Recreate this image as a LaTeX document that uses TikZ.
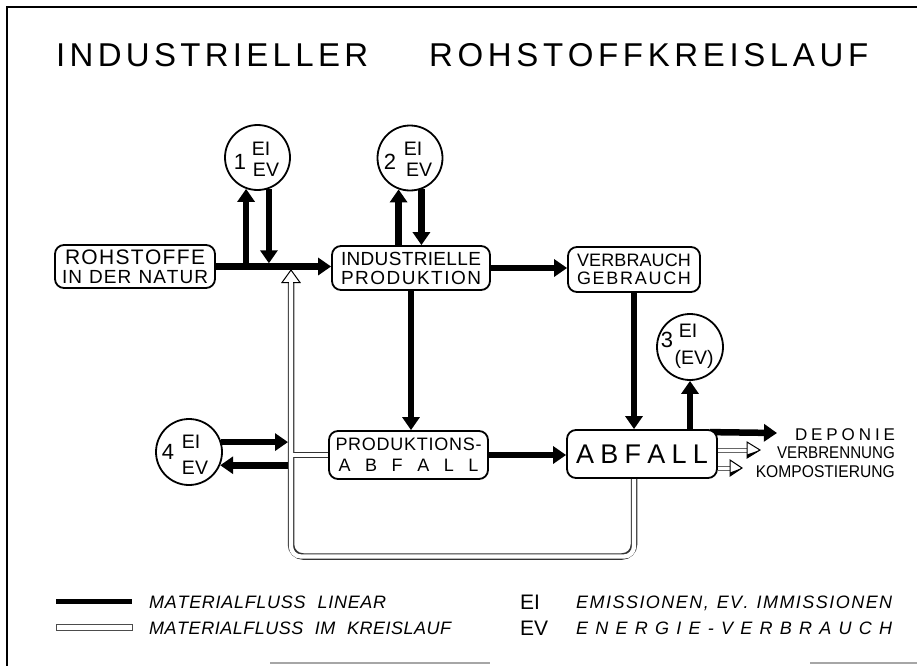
\documentclass[tikz,border=0pt]{standalone}
\usepackage{fontspec}
\setmainfont{Liberation Sans}
\usetikzlibrary{arrows.meta,calc}
\pgfdeclarelayer{bg}
\pgfsetlayers{bg,main}
\makeatletter
\def\sprd#1#2{\makebox[#1][s]{\sprd@a#2\relax}}
\def\sprd@a#1{\ifx#1\relax\else#1\expandafter\sprd@b\fi}
\def\sprd@b#1{\ifx#1\relax\else\hfil#1\expandafter\sprd@b\fi}
\makeatother
\begin{document}
\begin{tikzpicture}[x=1pt,y=-1pt,
  mbox/.style={draw, line width=1.8pt, rounded corners=9pt, fill=white, inner sep=0pt, align=center},
  mcirc/.style={draw, circle, line width=1.8pt, fill=white, minimum size=65pt, inner sep=0pt},
  mflow/.style={line width=6.5pt, -{Triangle[width=17pt,length=13pt]}},
  mtxt/.style={inner sep=0pt, anchor=base},
  ntxt/.style={mtxt, font=\fontsize{22}{22}\selectfont},
  ctxt/.style={mtxt, font=\fontsize{19.5}{19.5}\selectfont},
  recb/.style={line width=6.5pt, black!80},
  recw/.style={line width=4.3pt, white},
  smb/.style={line width=5pt, black!60},
  smw/.style={line width=3pt, white},
  openhead/.style={line width=1pt, fill=white, line join=miter},
  legtxt/.style={inner sep=0pt, anchor=base west, font=\fontsize{18}{18}\selectfont\itshape}]
\useasboundingbox (0,0) rectangle (917,666);
% frame
\draw[line width=2pt] (917,7) -- (7,7) -- (7,666);
\draw[line width=1.5pt, black!35] (270,663) -- (490,663);
\draw[line width=1.5pt, black!35] (810,663) -- (917,663);
% title
\node[mtxt, anchor=base west, font=\fontsize{33}{33}\selectfont] (t1) at (56,67) {\sprd{312pt}{INDUSTRIELLER}};
\node[mtxt, anchor=base west, font=\fontsize{33}{33}\selectfont] (t2) at (429,67) {\sprd{439pt}{ROHSTOFFKREISLAUF}};
% boxes
\node[mbox, minimum width=160pt, minimum height=43pt, font=\fontsize{19}{19}\selectfont] (rn) at (135,266.5)
  {{\fontsize{21}{19}\selectfont\sprd{140pt}{ROHSTOFFE}}\\\sprd{146pt}{IN~DER~NATUR}};
\node[mbox, minimum width=158pt, minimum height=44pt, font=\fontsize{19}{19}\selectfont] (ip) at (411,268)
  {\sprd{140pt}{INDUSTRIELLE}\\\sprd{140pt}{PRODUKTION}};
\node[mbox, minimum width=132pt, minimum height=45pt, font=\fontsize{18}{18}\selectfont] (vg) at (634,269.5)
  {\sprd{114pt}{VERBRAUCH}\\\sprd{114pt}{GEBRAUCH}};
\node[mbox, minimum width=159pt, minimum height=48pt, font=\fontsize{18}{21}\selectfont] (pa) at (408.5,455)
  {\sprd{146pt}{PRODUKTIONS-}\\\sprd{140pt}{ABFALL}};
\node[mbox, minimum width=150pt, minimum height=48pt, font=\fontsize{27}{27}\selectfont] (ab) at (642,454)
  {\sprd{132pt}{ABFALL}};
% circles
\node[mcirc] (c1) at (257.5,157.5) {};
\node[mcirc] (c2) at (410,158) {};
\node[mcirc, minimum size=66pt] (c3) at (690,347) {};
\node[mcirc, minimum size=66pt] (c4) at (189,452) {};
\node[ntxt] (c1n) at (240,169) {1};
\node[ctxt] (c1a) at (261,155) {EI};
\node[ctxt] (c1b) at (266,176) {EV};
\node[ntxt] (c2n) at (390,169) {2};
\node[ctxt] (c2a) at (413,155) {EI};
\node[ctxt] (c2b) at (419,176) {EV};
\node[ntxt] (c3n) at (667,347) {3};
\node[ctxt] (c3a) at (688,337) {EI};
\node[ctxt] (c3b) at (694,364) {(EV)};
\node[ntxt] (c4n) at (168,459) {4};
\node[ctxt] (c4a) at (191,448) {EI};
\node[ctxt] (c4b) at (195,474) {EV};
% right labels
\node[mtxt, font=\fontsize{17}{17}\selectfont] (dep) at (845,440) {\sprd{100pt}{DEPONIE}};
\node[mtxt, anchor=base east, font=\fontsize{17}{17}\selectfont] (ver) at (895,458) {\scalebox{0.89}[1]{VERBRENNUNG}};
\node[mtxt, anchor=base east, font=\fontsize{17}{17}\selectfont] (kom) at (895,477) {\scalebox{0.92}[1]{KOMPOSTIERUNG}};
\coordinate (depT) at (777,433);
\coordinate (verT) at (760,450);
\coordinate (komT) at (742,468);
% recycling
\coordinate (rb) at (291,556.5);
\coordinate (rtop) at (291,282);
\coordinate (rl) at (288,300);
\begin{pgfonlayer}{bg}
  \draw[recb, rounded corners=12pt] (ab.south -| vg.south) |- (rb) -- (rtop);
  \draw[recb] (pa.west) -- (pa.west -| rb);
  \draw[recw, rounded corners=10pt] (ab.south -| vg.south) |- (rb) -- (rtop);
  \draw[recw] (pa.west) -- (pa.west -| rb);
  \draw[mflow] ($(ab.north east)+(-8,3)$) -- (depT);
  \draw[smb] (ab.east |- verT) -- ($(verT)+(-13,0)$);
  \draw[smw] (ab.east |- verT) -- ($(verT)+(-13,0)$);
  \draw[smb] (ab.east |- komT) -- ($(komT)+(-12,0)$);
  \draw[smw] (ab.east |- komT) -- ($(komT)+(-12,0)$);
\end{pgfonlayer}
\draw[openhead] (rtop) ++(0,-12) -- ++(-9,12.5) -- ++(18,0) -- cycle;
\fill[white] (288.9,281) rectangle (293.1,284);
\draw[openhead] (verT) -- ++(-13,-8) -- ++(0,16) -- cycle;
\fill (verT) -- ++(-13,8) -- ++(0,-3.5) -- cycle;
\draw[openhead] (komT) -- ++(-12,-8) -- ++(0,16) -- cycle;
\fill (komT) -- ++(-12,8) -- ++(0,-3.5) -- cycle;
% flows
\draw[mflow] (rn.east) -- (rn.east -| ip.west);
\draw[mflow] (c1.250 |- rn.east) -- (c1.250);
\draw[mflow, shorten >=3.2pt] (c1.290) -- (c1.290 |- rn.east);
\draw[mflow] (c2.250 |- ip.north) -- (c2.250);
\draw[mflow] (c2.290) -- (c2.290 |- ip.north);
\draw[mflow] (ip.east) -- (ip.east -| vg.west);
\draw[mflow] (ip.south) -- (ip.south |- pa.north);
\draw[mflow] (vg.south) -- (vg.south |- ab.north);
\draw[mflow] (pa.east) -- (pa.east -| ab.west);
\draw[mflow] (c3.south |- ab.north) -- (c3.south);
\draw[mflow] (c4.17) -- (c4.17 -| rl);
\draw[mflow] (c4.-23 -| rl) -- (c4.-23);
% legend
\coordinate (l1a) at (56,601); \coordinate (l1b) at (132,601);
\draw[line width=5pt] (l1a) -- (l1b);
\draw[line width=0.8pt, black!70] (56,624) rectangle (132,630);
\node[legtxt] (lt1) at (149,608) {\sprd{237pt}{MATERIALFLUSS~~LINEAR}};
\node[legtxt] (lt2) at (149,634) {\sprd{302pt}{MATERIALFLUSS~~IM~~KREISLAUF}};
\node[mtxt, anchor=base west, font=\fontsize{21}{21}\selectfont] (le1) at (520,609) {EI};
\node[mtxt, anchor=base west, font=\fontsize{21}{21}\selectfont] (le2) at (520,635) {EV};
\node[legtxt] (lt3) at (576,608) {\sprd{316pt}{EMISSIONEN,~EV.~IMMISSIONEN}};
\node[legtxt] (lt4) at (576,634) {\sprd{316pt}{ENERGIE-VERBRAUCH}};
\end{tikzpicture}
\end{document}
